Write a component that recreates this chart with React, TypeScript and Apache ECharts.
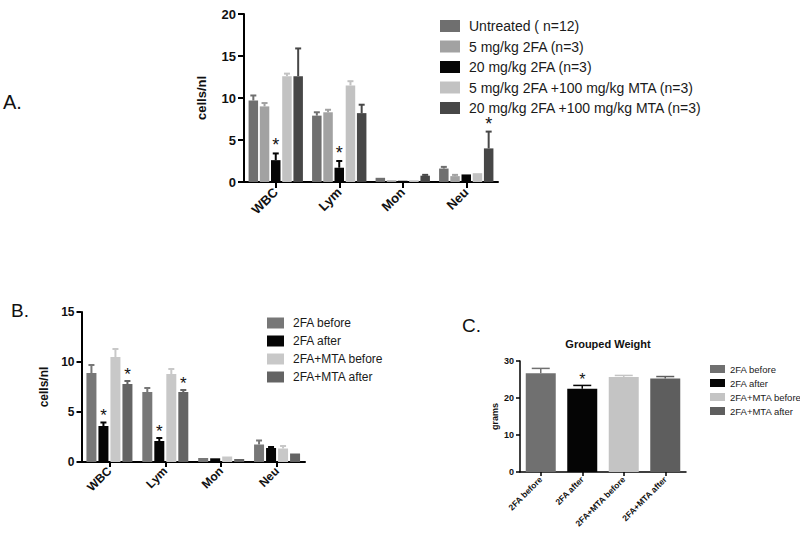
import React, { useEffect, useRef } from "react";
import * as echarts from "echarts";

const FONT = "Liberation Sans, Arial, Helvetica, sans-serif";

// Panel A
const catsA = ["WBC", "Lym", "Mon", "Neu"];
const namesA = [
  "Untreated ( n=12)",
  "5 mg/kg 2FA (n=3)",
  "20 mg/kg 2FA (n=3)",
  "5 mg/kg 2FA +100 mg/kg MTA (n=3)",
  "20 mg/kg 2FA +100 mg/kg MTA (n=3)",
];
const colorsA = ["#6f6f6f", "#a2a2a2", "#050505", "#c2c2c2", "#474747"];
const untreated = [9.7, 7.9, 0.5, 1.6];
const untreatedErr = [10.3, 8.3, 0.55, 1.8];
const fa5 = [9.0, 8.3, 0.2, 0.7];
const fa5Err = [9.4, 8.6, 0.2, 0.85];
const fa20 = [2.6, 1.7, 0.15, 0.9];
const fa20Err = [3.4, 2.5, 0.15, 0.95];
const fa5mta = [12.6, 11.5, 0.2, 1.05];
const fa5mtaErr = [12.9, 12.0, 0.2, 1.1];
const fa20mta = [12.6, 8.2, 0.75, 4.0];
const fa20mtaErr = [15.9, 9.2, 0.85, 6.0];
const starsA = [
  [false, false, false, false],
  [false, false, false, false],
  [true, true, false, false],
  [false, false, false, false],
  [false, false, false, true],
];
const ticksA = { min: 0, max: 20, interval: 5 };

// Panel B
const catsB = ["WBC", "Lym", "Mon", "Neu"];
const namesB = ["2FA before", "2FA after", "2FA+MTA before", "2FA+MTA after"];
const colorsB = ["#777777", "#050505", "#c8c8c8", "#646464"];
const bBefore = [8.9, 7.0, 0.4, 1.75];
const bBeforeErr = [9.7, 7.4, 0.45, 2.15];
const bAfter = [3.6, 2.1, 0.37, 1.4];
const bAfterErr = [3.95, 2.4, 0.4, 1.5];
const bMtaBefore = [10.5, 8.8, 0.55, 1.35];
const bMtaBeforeErr = [11.3, 9.3, 0.6, 1.6];
const bMtaAfter = [7.8, 7.0, 0.3, 0.85];
const bMtaAfterErr = [8.1, 7.2, 0.3, 0.9];
const starsB = [
  [false, false, false, false],
  [true, true, false, false],
  [false, false, false, false],
  [true, true, false, false],
];
const ticksB = { min: 0, max: 15, interval: 5 };

// Panel C
const catsC = ["2FA before", "2FA after", "2FA+MTA before", "2FA+MTA after"];
const colorsC = ["#707070", "#050505", "#c4c4c4", "#5e5e5e"];
const weight = [26.7, 22.5, 25.7, 25.3];
const weightErr = [28.0, 23.4, 26.1, 25.8];
const starsC = [false, true, false, false];
const ticksC = { min: 0, max: 30, interval: 10 };
const titleC = "Grouped Weight";

function barOffsets(n: number, w: number, gap: number) {
  const total = n * w + (n - 1) * gap * w;
  const res: number[] = [];
  for (let i = 0; i < n; i++) res.push(-total / 2 + w / 2 + i * w * (1 + gap));
  return res;
}

function errSeries(
  id: string,
  axis: number,
  vals: (number | null)[],
  errs: (number | null)[],
  stars: boolean[],
  offset: number,
  color: string,
  cap: number,
  lw: number,
  starSize: number,
  starGap: number
) {
  const data: any[] = [];
  vals.forEach((v, i) => {
    if (v != null) data.push([i, v, errs[i], stars[i] ? 1 : 0]);
  });
  return {
    type: "custom",
    id,
    name: id,
    xAxisIndex: axis,
    yAxisIndex: axis,
    z: 5,
    silent: true,
    data,
    encode: { x: 0, y: 2 },
    renderItem: (params: any, api: any) => {
      const i = api.value(0);
      const v = api.value(1);
      const e = api.value(2);
      const s = api.value(3);
      const p0 = api.coord([i, v]);
      const p1 = api.coord([i, e]);
      const x = p0[0] + offset;
      const children: any[] = [];
      if (p0[1] - p1[1] > 0.5) {
        children.push({
          type: "line",
          shape: { x1: x, y1: p0[1], x2: x, y2: p1[1] },
          style: { stroke: color, lineWidth: lw },
        });
        children.push({
          type: "line",
          shape: { x1: x - cap / 2, y1: p1[1], x2: x + cap / 2, y2: p1[1] },
          style: { stroke: color, lineWidth: lw },
        });
      }
      if (s) {
        children.push({
          type: "text",
          x,
          y: p1[1] - starGap,
          style: {
            text: "*",
            fontSize: starSize,
            fontFamily: FONT,
            fill: "#111",
            align: "center",
            verticalAlign: "middle",
          },
        });
      }
      return { type: "group", children };
    },
  };
}

function valueAxis(idx: number, t: any, name: string, fs: number, nameFs: number, nameGap: number, lw: number, tickLen: number) {
  return {
    type: "value",
    gridIndex: idx,
    min: t.min,
    max: t.max,
    interval: t.interval,
    name,
    nameLocation: "middle",
    nameGap,
    nameTextStyle: { fontSize: nameFs, fontWeight: "bold", fontFamily: FONT, color: "#111" },
    axisLine: { show: true, lineStyle: { color: "#000", width: lw } },
    axisTick: { show: true, length: tickLen, lineStyle: { color: "#000", width: lw } },
    splitLine: { show: false },
    axisLabel: { fontSize: fs, fontWeight: "bold", fontFamily: FONT, color: "#111", margin: tickLen + 2 },
  };
}

function catAxis(idx: number, cats: string[], fs: number, lw: number, tickLen: number) {
  return {
    type: "category",
    gridIndex: idx,
    data: cats,
    axisLine: { show: true, lineStyle: { color: "#000", width: lw } },
    axisTick: { show: true, alignWithLabel: true, interval: 0, length: tickLen, lineStyle: { color: "#000", width: lw } },
    axisLabel: { rotate: 45, interval: 0, fontSize: fs, fontWeight: "bold", fontFamily: FONT, color: "#111", margin: tickLen + 2 },
  };
}

export default function App() {
  const ref = useRef<HTMLDivElement>(null);
  useEffect(() => {
    if (!ref.current) return;
    const chart = echarts.init(ref.current, undefined, { renderer: "svg" });

    const seriesA = [untreated, fa5, fa20, fa5mta, fa20mta];
    const errA = [untreatedErr, fa5Err, fa20Err, fa5mtaErr, fa20mtaErr];
    const wA = 9.5, gA = 0.18;
    const offA = barOffsets(5, wA, gA);

    const seriesB = [bBefore, bAfter, bMtaBefore, bMtaAfter];
    const errB = [bBeforeErr, bAfterErr, bMtaBeforeErr, bMtaAfterErr];
    const wB = 10, gB = 0.2;
    const offB = barOffsets(4, wB, gB);

    const series: any[] = [];
    seriesA.forEach((d, k) => {
      series.push({
        type: "bar",
        name: namesA[k],
        xAxisIndex: 0,
        yAxisIndex: 0,
        data: d,
        barWidth: wA,
        barGap: gA * 100 + "%",
        itemStyle: { color: colorsA[k] },
      });
    });
    seriesA.forEach((d, k) => {
      series.push(errSeries("errA" + k, 0, d, errA[k], starsA[k], offA[k], colorsA[k], 6, 2, 18, 8));
    });
    seriesB.forEach((d, k) => {
      series.push({
        type: "bar",
        name: namesB[k],
        xAxisIndex: 1,
        yAxisIndex: 1,
        data: d,
        barWidth: wB,
        barGap: gB * 100 + "%",
        itemStyle: { color: colorsB[k] },
      });
    });
    seriesB.forEach((d, k) => {
      series.push(errSeries("errB" + k, 1, d, errB[k], starsB[k], offB[k], colorsB[k], 6, 2, 17, 7));
    });
    catsC.forEach((c, k) => {
      const d = catsC.map((_, j) => (j === k ? weight[j] : null));
      const e = catsC.map((_, j) => (j === k ? weightErr[j] : null));
      series.push({
        type: "bar",
        name: namesB[k],
        xAxisIndex: 2,
        yAxisIndex: 2,
        stack: "c",
        data: d,
        barWidth: 30,
        itemStyle: { color: colorsC[k] },
      });
      series.push(
        errSeries("errC" + k, 2, d, e, catsC.map((_, j) => j === k && starsC[j]), 0, colorsC[k], 18, 1.5, 16, 6)
      );
    });

    chart.setOption({
      animation: false,
      backgroundColor: "#ffffff",
      title: {
        text: titleC,
        left: 603,
        top: 333,
        textAlign: "center",
        textStyle: { fontSize: 11, fontWeight: "bold", fontFamily: FONT, color: "#111" },
      },
      grid: [
        { left: 244, top: 14, width: 254, height: 168 },
        { left: 81.5, top: 312, width: 223.5, height: 150 },
        { left: 520, top: 361, width: 166, height: 111 },
      ],
      xAxis: [catAxis(0, catsA, 13, 2, 6), catAxis(1, catsB, 12, 2, 5), catAxis(2, catsC, 8.5, 1.5, 4)],
      yAxis: [
        valueAxis(0, ticksA, "cells/nl", 13, 13, 36, 2, 6),
        valueAxis(1, ticksB, "cells/nl", 12, 12, 32, 2, 5),
        valueAxis(2, ticksC, "grams", 9, 9, 21, 1.5, 4),
      ],
      legend: [
        {
          orient: "vertical",
          left: 440,
          top: 19,
          padding: 0,
          itemWidth: 20,
          itemHeight: 12,
          itemGap: 6.5,
          icon: "rect",
          selectedMode: false,
          textStyle: { fontSize: 14, fontFamily: FONT, color: "#1a1a1a", padding: [0, 0, 0, 4] },
          data: namesA.map((n, k) => ({ name: n, itemStyle: { color: colorsA[k] } })),
        },
        {
          orient: "vertical",
          left: 267,
          top: 317,
          padding: 0,
          itemWidth: 17,
          itemHeight: 11,
          itemGap: 6,
          icon: "rect",
          selectedMode: false,
          textStyle: { fontSize: 12, fontFamily: FONT, color: "#1a1a1a", padding: [0, 0, 0, 4] },
          data: namesB.map((n, k) => ({ name: n, itemStyle: { color: colorsB[k] } })),
        },
        {
          orient: "vertical",
          left: 710,
          top: 364,
          padding: 0,
          itemWidth: 15,
          itemHeight: 8,
          itemGap: 4,
          icon: "rect",
          selectedMode: false,
          textStyle: { fontSize: 9.5, fontFamily: FONT, color: "#1a1a1a", padding: [0, 0, 0, 0] },
          data: namesB.map((n, k) => ({ name: n, itemStyle: { color: colorsC[k] } })),
        },
      ],
      graphic: [
        { type: "text", left: 3, top: 92, style: { text: "A.", fontSize: 20, fontFamily: FONT, fill: "#111" } },
        { type: "text", left: 11, top: 301, style: { text: "B.", fontSize: 19, fontFamily: FONT, fill: "#111" } },
        { type: "text", left: 462, top: 316, style: { text: "C.", fontSize: 19, fontFamily: FONT, fill: "#111" } },
      ],
      series,
    });
    return () => chart.dispose();
  }, []);
  return (
    <div
      ref={ref}
      style={{ position: "fixed", left: 0, top: 0, width: 800, height: 533, background: "#fff" }}
    />
  );
}
